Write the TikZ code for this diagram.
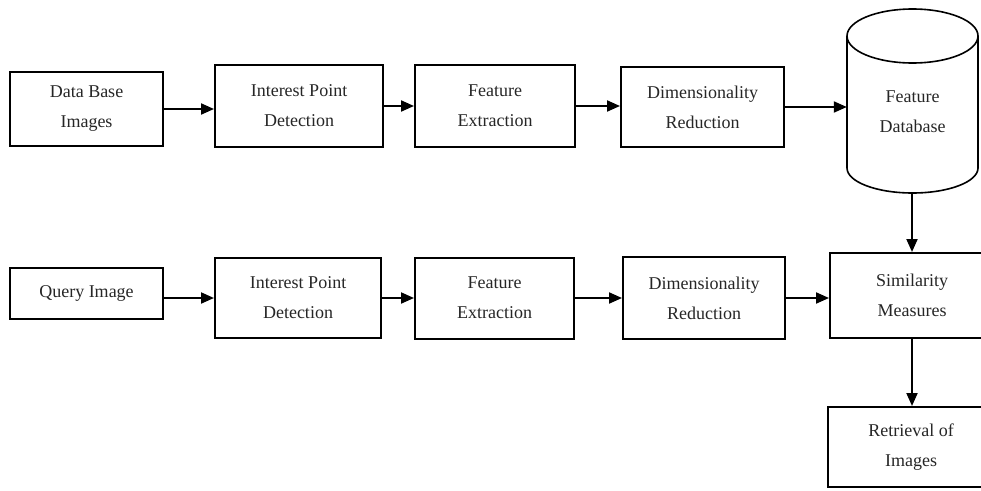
\documentclass[tikz,border=0pt]{standalone}
\usepackage{fontspec}
\setmainfont{Liberation Serif}
\usetikzlibrary{arrows.meta}
\begin{document}
\begin{tikzpicture}[x=1pt,y=-1pt,
  box/.style={draw, line width=2pt, align=center, inner sep=0pt,
    font=\fontsize{18}{30}\selectfont, text=black!85},
  lbl/.style={align=center, inner sep=0pt, font=\fontsize{18}{30}\selectfont, text=black!85},
  arr/.style={line width=2pt, -{Triangle[length=13pt,width=11pt]}}]
\useasboundingbox (0,0) rectangle (981,490);
% row 1
\node[box, minimum width=153pt, minimum height=74pt] (db) at (86.5,109) {Data Base\\Images};
\node[box, minimum width=168pt, minimum height=82pt] (ipd1) at (299,106) {Interest Point\\Detection};
\node[box, minimum width=160pt, minimum height=82pt] (fe1) at (495,106) {Feature\\Extraction};
\node[box, minimum width=163pt, minimum height=80pt] (dr1) at (702.5,107) {Dimensionality\\Reduction};
% cylinder
\draw[line width=1.6pt] (912.5,36) ellipse [x radius=65.5, y radius=27];
\draw[line width=1.6pt] (847,36) -- (847,168) arc[start angle=180, end angle=0, x radius=65.5, y radius=25] -- (978,36);
\node[lbl, minimum width=131pt, minimum height=150pt] (fdb) at (912.5,112) {Feature\\Database};
\coordinate (cylb) at (912,193);
% row 2
\node[box, minimum width=153pt, minimum height=51pt] (q) at (86.5,293.5) {Query Image};
\node[box, minimum width=166pt, minimum height=80pt] (ipd2) at (298,298) {Interest Point\\Detection};
\node[box, minimum width=159pt, minimum height=81pt] (fe2) at (494.5,298) {Feature\\Extraction};
\node[box, minimum width=162pt, minimum height=82pt] (dr2) at (704,298) {Dimensionality\\Reduction};
\node[box, minimum width=164pt, minimum height=85pt] (sm) at (912,295.5) {Similarity\\Measures};
\node[box, minimum width=166pt, minimum height=80pt] (ret) at (911,447) {Retrieval of\\Images};
% arrows
\draw[arr] (db.east) -- (db.east -| ipd1.west);
\draw[arr] (ipd1.east) -- (ipd1.east -| fe1.west);
\draw[arr] (fe1.east) -- (fe1.east -| dr1.west);
\draw[arr] (dr1.east) -- (dr1.east -| fdb.west);
\draw[arr] (cylb) -- (cylb |- sm.north);
\draw[arr] (ipd2.west -| q.east) -- (ipd2.west);
\draw[arr] (ipd2.east) -- (ipd2.east -| fe2.west);
\draw[arr] (fe2.east) -- (fe2.east -| dr2.west);
\draw[arr] (dr2.east) -- (dr2.east -| sm.west);
\draw[arr] (sm.south) -- (sm.south |- ret.north);
\end{tikzpicture}
\end{document}
